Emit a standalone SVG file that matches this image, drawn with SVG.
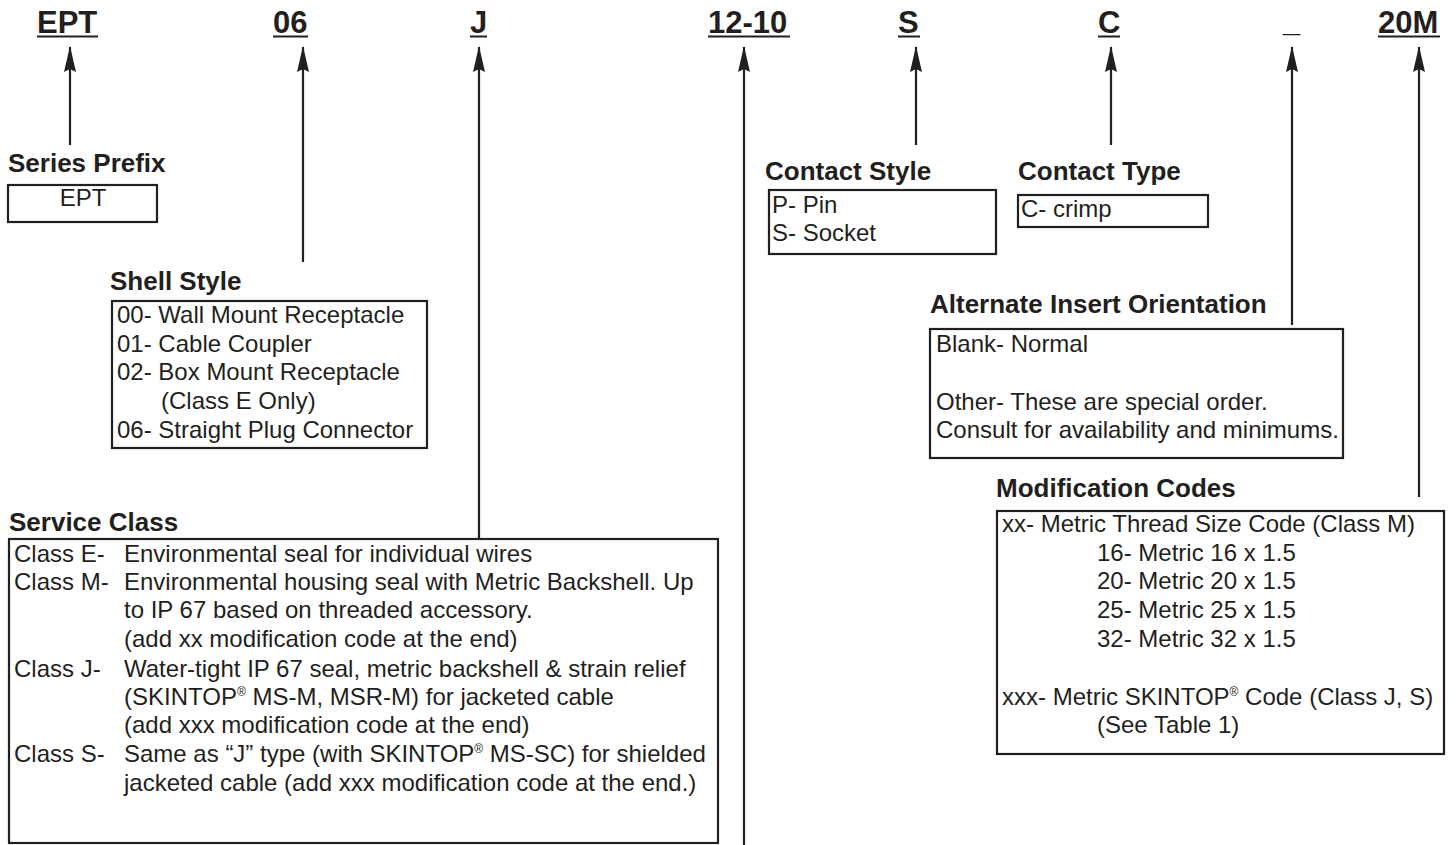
<svg xmlns="http://www.w3.org/2000/svg" width="1456" height="845" viewBox="0 0 1456 845">
<style>
text{font-family:"Liberation Sans",Arial,sans-serif;fill:#231f20}
.code{font-size:31px;font-weight:bold}
.hd{font-size:26px;font-weight:bold}
.bd{font-size:24px}
.box{fill:none;stroke:#231f20;stroke-width:2.2}
.ul{stroke:#231f20;stroke-width:2}
.arr{fill:none;stroke:#231f20;stroke-width:2.2;marker-end:url(#ah)}
.sup{font-size:12px}
</style>
<defs>
<marker id="ah" viewBox="0 0 26 12" refX="25" refY="6" markerWidth="26" markerHeight="12" markerUnits="userSpaceOnUse" orient="auto">
<path d="M0,0 L26,6 L0,12 L3,6 z" fill="#231f20"/>
</marker>
</defs>
<rect width="1456" height="845" fill="#fff"/>

<g id="codes">
<text class="code" x="37" y="33">EPT</text><line class="ul" x1="37" y1="36.5" x2="98" y2="36.5"/>
<text class="code" x="273" y="33">06</text><line class="ul" x1="273" y1="36.5" x2="308" y2="36.5"/>
<text class="code" x="470" y="33">J</text><line class="ul" x1="470" y1="36.5" x2="487" y2="36.5"/>
<text class="code" x="708" y="33">12-10</text><line class="ul" x1="708" y1="36.5" x2="790" y2="36.5"/>
<text class="code" x="898" y="33">S</text><line class="ul" x1="898" y1="36.5" x2="920" y2="36.5"/>
<text class="code" x="1098" y="33">C</text><line class="ul" x1="1098" y1="36.5" x2="1120" y2="36.5"/>
<text class="code" x="1283" y="31">_</text>
<text class="code" x="1378" y="33">20M</text><line class="ul" x1="1378" y1="36.5" x2="1440" y2="36.5"/>
</g>

<g id="connectors">
<path class="arr" d="M70 145 V47"/>
<path class="arr" d="M303 262 V47"/>
<path class="arr" d="M479 538 V47"/>
<path class="arr" d="M744 845 V47"/>
<path class="arr" d="M916 145 V47"/>
<path class="arr" d="M1111 145 V47"/>
<path class="arr" d="M1292 325 V47"/>
<path class="arr" d="M1419 497 V47"/>
</g>

<g id="series-prefix">
<text class="hd" x="8" y="172">Series Prefix</text>
<rect class="box" x="8" y="185" width="149" height="37"/>
<text class="bd" x="83" y="206" text-anchor="middle">EPT</text>
</g>

<g id="shell-style">
<text class="hd" x="110" y="290">Shell Style</text>
<rect class="box" x="112" y="301" width="315" height="147"/>
<text class="bd" x="117" y="323">00- Wall Mount Receptacle</text>
<text class="bd" x="117" y="352">01- Cable Coupler</text>
<text class="bd" x="117" y="380">02- Box Mount Receptacle</text>
<text class="bd" x="161" y="409">(Class E Only)</text>
<text class="bd" x="117" y="438">06- Straight Plug Connector</text>
</g>

<g id="service-class">
<text class="hd" x="9" y="531">Service Class</text>
<rect class="box" x="9" y="539" width="709" height="304"/>
<text class="bd" x="14" y="562">Class E-</text>
<text class="bd" x="124" y="562">Environmental seal for individual wires</text>
<text class="bd" x="14" y="590">Class M-</text>
<text class="bd" x="124" y="590">Environmental housing seal with Metric Backshell. Up</text>
<text class="bd" x="124" y="618">to IP 67 based on threaded accessory.</text>
<text class="bd" x="124" y="647">(add xx modification code at the end)</text>
<text class="bd" x="14" y="677">Class J-</text>
<text class="bd" x="124" y="677">Water-tight IP 67 seal, metric backshell &amp; strain relief</text>
<text class="bd" x="124" y="705">(SKINTOP<tspan class="sup" dy="-9">®</tspan><tspan dy="9"> MS-M, MSR-M) for jacketed cable</tspan></text>
<text class="bd" x="124" y="733">(add xxx modification code at the end)</text>
<text class="bd" x="14" y="762">Class S-</text>
<text class="bd" x="124" y="762">Same as “J” type (with SKINTOP<tspan class="sup" dy="-9">®</tspan><tspan dy="9"> MS-SC) for shielded</tspan></text>
<text class="bd" x="124" y="791">jacketed cable (add xxx modification code at the end.)</text>
</g>

<g id="contact-style">
<text class="hd" x="765" y="180">Contact Style</text>
<rect class="box" x="769" y="190" width="227" height="64"/>
<text class="bd" x="772" y="213">P- Pin</text>
<text class="bd" x="772" y="241">S- Socket</text>
</g>

<g id="contact-type">
<text class="hd" x="1018" y="180">Contact Type</text>
<rect class="box" x="1018" y="195" width="190" height="32"/>
<text class="bd" x="1021" y="217">C- crimp</text>
</g>

<g id="alternate-insert-orientation">
<text class="hd" x="930" y="313">Alternate Insert Orientation</text>
<rect class="box" x="930" y="329" width="413" height="129"/>
<text class="bd" x="936" y="352">Blank- Normal</text>
<text class="bd" x="936" y="410">Other- These are special order.</text>
<text class="bd" x="936" y="438">Consult for availability and minimums.</text>
</g>

<g id="modification-codes">
<text class="hd" x="996" y="497">Modification Codes</text>
<rect class="box" x="997" y="511" width="447" height="243"/>
<text class="bd" x="1002" y="532">xx- Metric Thread Size Code (Class M)</text>
<text class="bd" x="1097" y="561">16- Metric 16 x 1.5</text>
<text class="bd" x="1097" y="589">20- Metric 20 x 1.5</text>
<text class="bd" x="1097" y="618">25- Metric 25 x 1.5</text>
<text class="bd" x="1097" y="647">32- Metric 32 x 1.5</text>
<text class="bd" x="1002" y="705">xxx- Metric SKINTOP<tspan class="sup" dy="-9">®</tspan><tspan dy="9"> Code (Class J, S)</tspan></text>
<text class="bd" x="1097" y="733">(See Table 1)</text>
</g>
</svg>
